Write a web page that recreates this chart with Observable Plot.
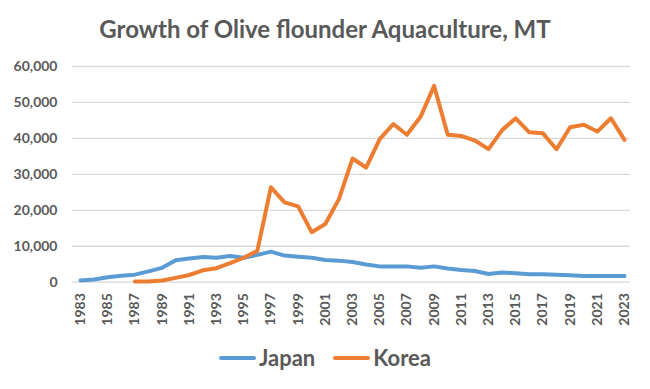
<!DOCTYPE html>
<html>
<head>
<meta charset="utf-8">
<script src="https://cdn.jsdelivr.net/npm/d3@7"></script>
<script src="https://cdn.jsdelivr.net/npm/@observablehq/plot@0.6"></script>
<style>
  body { margin: 0; background: white; }
  #wrap { position: relative; width: 650px; height: 389px; background: white; font-family: Lato, "Open Sans", sans-serif; color: #595959; }
  #title { position: absolute; left: 0; width: 650px; top: 14px; text-align: center; font-size: 24px; font-weight: bold; line-height: 30px; }
  #chart { position: absolute; left: 0; top: 50px; }
  #legend { position: absolute; left: 0; width: 650px; top: 343px; display: flex; justify-content: center; align-items: center; font-size: 22px; font-weight: bold; line-height: 30px; }
  .item { display: flex; align-items: center; margin: 0 9px; }
  .sw { display: inline-block; width: 37px; height: 4px; border-radius: 2px; margin-right: 3px; }
</style>
</head>
<body>
<div id="wrap">
  <div id="title"></div>
  <div id="chart"></div>
  <div id="legend"></div>
</div>
<script>
const title = "Growth of Olive flounder Aquaculture, MT";
const seriesNames = ["Japan", "Korea"];
const seriesColors = ["#5b9bd5", "#ed7d31"];

const japanYears = d3.range(1983, 2024);
const japan = [500, 750, 1400, 1800, 2100, 3000, 4000, 6100, 6600, 7000,
  6800, 7300, 6800, 7600, 8500, 7400, 7100, 6800, 6200, 6000,
  5600, 4900, 4400, 4400, 4400, 4000, 4400, 3800, 3400, 3100,
  2300, 2700, 2500, 2200, 2200, 2100, 1900, 1700, 1700, 1700, 1700];

const koreaYears = d3.range(1987, 2024);
const korea = [200, 200, 470, 1200, 2000, 3300, 3900, 5300, 6800, 8700,
  26400, 22200, 21100, 13900, 16200, 23100, 34400, 31900, 39800, 44000,
  41000, 46000, 54600, 41000, 40700, 39400, 37000, 42300, 45600, 41700,
  41400, 37000, 43100, 43800, 41900, 45600, 39600];

const yTicks = [0, 10000, 20000, 30000, 40000, 50000, 60000];
const xTicks = d3.range(1983, 2024, 2);

const data = [
  ...japanYears.map((y, i) => ({year: y, value: japan[i], series: seriesNames[0]})),
  ...koreaYears.map((y, i) => ({year: y, value: korea[i], series: seriesNames[1]}))
];

document.getElementById("title").textContent = title;

const chart = Plot.plot({
  width: 650,
  height: 285,
  marginLeft: 72,
  marginRight: 20,
  marginTop: 16,
  marginBottom: 53.3,
  style: {fontFamily: "Lato, 'Open Sans', sans-serif", background: "white", color: "#595959", overflow: "visible"},
  x: {domain: [1982.41, 2023.44], axis: null, label: null},
  y: {domain: [0, 60000], axis: null, label: null},
  color: {domain: seriesNames, range: seriesColors},
  marks: [
    Plot.gridY(yTicks, {stroke: "#d9d9d9", strokeOpacity: 1, strokeWidth: 1.3}),
    Plot.axisY(yTicks, {label: null, tickSize: 0, tickPadding: 15, tickFormat: d3.format(","), fontSize: 14, fontWeight: "bold", fill: "#595959"}),
    Plot.axisX(xTicks, {label: null, tickSize: 0, tickRotate: -90, tickPadding: 11, tickFormat: d => String(d), fontSize: 14, fontWeight: "bold", fill: "#595959"}),
    Plot.line(data, {x: "year", y: "value", z: "series", stroke: "series", strokeWidth: 4, strokeLinejoin: "round", strokeLinecap: "round"})
  ]
});
document.getElementById("chart").appendChild(chart);

const legend = document.getElementById("legend");
seriesNames.forEach((name, i) => {
  const item = document.createElement("div");
  item.className = "item";
  const sw = document.createElement("span");
  sw.className = "sw";
  sw.style.background = seriesColors[i];
  const t = document.createElement("span");
  t.textContent = name;
  item.appendChild(sw);
  item.appendChild(t);
  legend.appendChild(item);
});
</script>
</body>
</html>
